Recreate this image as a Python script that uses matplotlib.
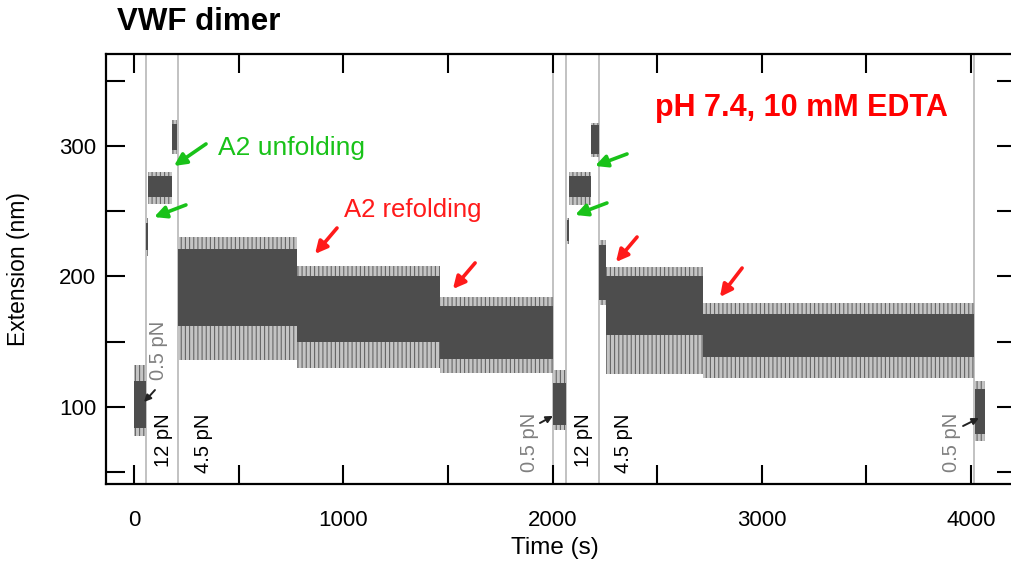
import matplotlib
matplotlib.use("Agg")
import matplotlib.pyplot as plt
from matplotlib.ticker import MultipleLocator

plt.rcParams["font.family"] = ["Liberation Sans", "DejaVu Sans"]
plt.rcParams["hatch.linewidth"] = 0.8

# extension trace, one entry per plateau: time span (s), dense core and noise envelope (nm)
seg_start = [0, 56, 67, 182, 209, 779, 1462, 2003, 2069, 2079, 2184, 2221, 2256, 2720, 4019]
seg_end   = [56, 65, 182, 207, 779, 1462, 2003, 2064, 2079, 2184, 2221, 2256, 2720, 4014, 4066]
core_lo   = [84, 220, 261, 297, 162, 150, 137, 86, 227, 261, 294, 182, 155, 138, 79]
core_hi   = [120, 241, 277, 317, 221, 200, 177, 118, 243, 277, 316, 224, 200, 171, 114]
env_lo    = [78, 216, 256, 294, 136, 130, 126, 82, 225, 255, 292, 178, 125, 122, 74]
env_hi    = [132, 245, 280, 320, 230, 208, 184, 128, 245, 280, 318, 228, 207, 180, 120]

# times where the applied force was switched
switch_t = [56, 209, 2003, 2064, 2221, 4014]

# force labels (rotated)
force_text  = ["0.5 pN", "12 pN", "4.5 pN", "0.5 pN", "12 pN", "4.5 pN", "0.5 pN"]
force_t     = [115, 139, 330, 1892, 2146, 2337, 3909]
force_v     = [143, 74.5, 72, 73, 74.5, 72, 73]
force_color = ["#808080", "black", "black", "#808080", "black", "black", "#808080"]

# arrows: (tail_t, tail_v, head_t, head_v)
green_arrows = [(344, 301.7, 191, 284.8), (248, 254.9, 96, 245.6),
                (2356, 294.0, 2203, 284.8), (2260, 256.4, 2108, 247.2)]
red_arrows   = [(970, 237.2, 865, 217.3), (1630, 210.4, 1524, 190.4),
                (2404, 230.3, 2303, 211.1), (2906, 206.5, 2800, 184.3)]
black_arrows = [(100, 112.9, 48, 103.7), (1940, 87.6, 2002, 93.0),
                (3962, 85.3, 4038, 91.4)]

fig = plt.figure(figsize=(10.11, 5.66), dpi=100)
ax = fig.add_axes([106 / 1011, 82 / 566, 910 / 1011, 430 / 566])

for t in switch_t:
    ax.axvline(t, color="#bdbdbd", lw=1.3, zorder=1)

for s, e, clo, chi, elo, ehi in zip(seg_start, seg_end, core_lo, core_hi, env_lo, env_hi):
    ax.fill_between([s, e], elo, ehi, facecolor="#c4c4c4", edgecolor="#666666",
                    hatch="||||", lw=0, zorder=2)
    ax.fill_between([s, e], clo, chi, color="#4d4d4d", lw=0, zorder=3)

for txt, t, v, c in zip(force_text, force_t, force_v, force_color):
    ax.text(t, v, txt, rotation=90, color=c, fontsize=14.5, ha="center", va="center")

for tt, tv, ht, hv in green_arrows:
    ax.annotate("", xy=(ht, hv), xytext=(tt, tv),
                arrowprops=dict(arrowstyle="-|>", color="#19c219", lw=2.6,
                                mutation_scale=18, shrinkA=0, shrinkB=0))
for tt, tv, ht, hv in red_arrows:
    ax.annotate("", xy=(ht, hv), xytext=(tt, tv),
                arrowprops=dict(arrowstyle="-|>", color="#ff1a1a", lw=2.6,
                                mutation_scale=18, shrinkA=0, shrinkB=0))
for tt, tv, ht, hv in black_arrows:
    ax.annotate("", xy=(ht, hv), xytext=(tt, tv),
                arrowprops=dict(arrowstyle="-|>", color="#222222", lw=1.4,
                                mutation_scale=10, shrinkA=0, shrinkB=0))

ax.text(401, 298.6, "A2 unfolding", color="#19c219", fontsize=19, ha="left", va="center")
ax.text(1333, 251, "A2 refolding", color="#ff1a1a", fontsize=18.5, ha="center", va="center")
ax.text(3188, 329.3, "pH 7.4, 10 mM EDTA", color="#ff0000", fontsize=22,
        fontweight="bold", ha="center", va="center")

ax.set_xlim(-134, 4215)
ax.set_ylim(40.8, 370.7)
ax.xaxis.set_major_locator(MultipleLocator(1000))
ax.xaxis.set_minor_locator(MultipleLocator(500))
ax.yaxis.set_major_locator(MultipleLocator(100))
ax.yaxis.set_minor_locator(MultipleLocator(50))
ax.tick_params(which="both", direction="in", length=13.5, width=1.5,
               top=True, right=True, labelsize=16)
ax.tick_params(axis="x", pad=19)
ax.tick_params(axis="y", pad=7)
for sp in ax.spines.values():
    sp.set_linewidth(1.6)

ax.set_xlabel("Time (s)", fontsize=17.5)
ax.set_ylabel("Extension (nm)", fontsize=16.5)
ax.xaxis.set_label_coords(0.493, -0.123)
ax.yaxis.set_label_coords(-0.0835, 0.5)

fig.text(117 / 1011, 0.961, "VWF dimer", fontsize=22.5, fontweight="bold",
         ha="left", va="center")

fig.savefig("out.png", dpi=100)
